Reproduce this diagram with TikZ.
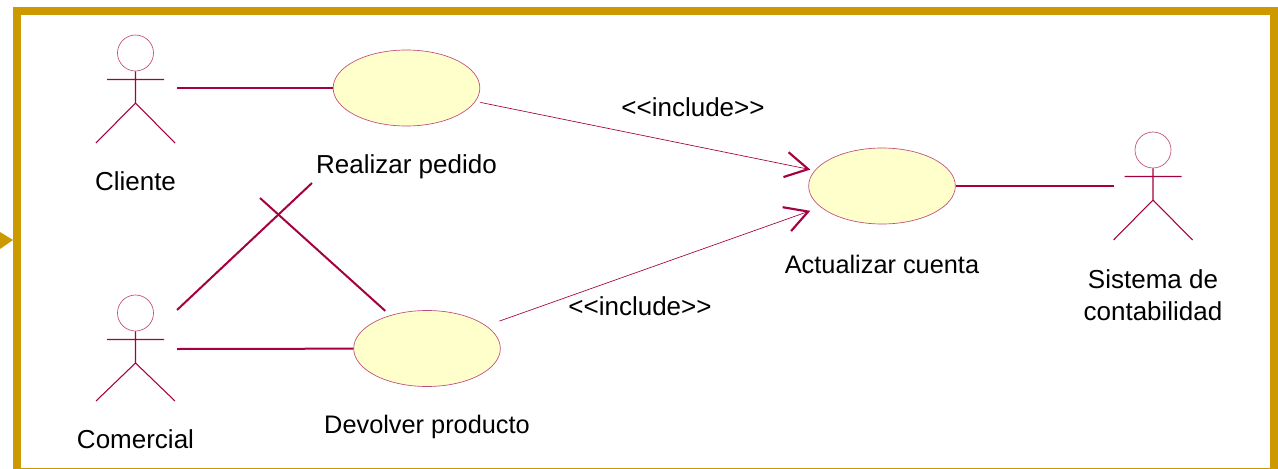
\documentclass[tikz,border=0pt]{standalone}
\usepackage{fontspec}
\setmainfont{Liberation Sans}
\usetikzlibrary{shapes.geometric, arrows.meta}
\definecolor{umlred}{HTML}{A5003F}
\definecolor{framegold}{HTML}{CC9900}
\definecolor{casefill}{HTML}{FFFFCC}
\tikzset{
x=0.75pt, y=-0.75pt, % one unit is one pixel of the layout, going down
usecase/.style={ellipse, draw=umlred!70, fill=casefill, line width=0.5pt, minimum width=110pt, minimum height=57pt, inner sep=0pt}, % yellow ovals
caption/.style={font=\fontsize{19.5}{24}\selectfont, align=center, inner sep=0pt, text=black}, % all the texts
tightcaption/.style={caption, font=\fontsize{19}{24}\selectfont}, % the two longest texts
assoc/.style={draw=umlred, line width=1.5pt}, % plain links
incl/.style={draw=umlred, line width=0.5pt, -{Straight Barb[length=17pt, width=19pt, line width=1.6pt]}}, % include links
actor/.pic={
    \node[circle, draw=umlred!70, line width=0.5pt, minimum size=27pt, inner sep=0pt] (-head) at (0,0) {};
    \draw[umlred, line width=0.8pt] (-head.south) -- (0,50)
        (-28.5,26.5) -- (28.5,26.5)
        (-39.5,#1) -- (0,50) -- (39.5,#1);
},
}

\begin{document}
\begin{tikzpicture}
    \clip (0,0) rectangle (1278,468);
    % frame
    \draw[framegold, line width=6pt] (17,10.7) rectangle (1273.5,471.5);
    \fill[framegold] (0,232) -- (13,240) -- (0,249) -- cycle;

    % actors
    \pic (cliente) at (135.5,53) {actor=90};
    \pic (comercial) at (135.5,313) {actor=88};
    \pic (sistema) at (1153,150) {actor=90};
    \node[caption, below of=cliente-head, node distance=96pt] (clienteText) {Cliente};
    \node[caption, below of=comercial-head, node distance=94.5pt] (comercialText) {Comercial};
    \node[caption, below of=sistema-head, node distance=108.75pt] (sistemaText) {Sistema de\\contabilidad};

    % use cases
    \node[usecase] (pedido) at (406.5,88) {};
    \node[usecase] (devolver) at (427,348.5) {};
    \node[usecase] (cuenta) at (882,186) {};
    \node[caption, below of=pedido, node distance=59pt] (pedidoText) {Realizar pedido};
    \node[tightcaption, below of=devolver, node distance=58.5pt] (devolverText) {Devolver producto};
    \node[tightcaption, below of=cuenta, node distance=58.5pt] (cuentaText) {Actualizar cuenta};

    % free ends of the links
    \coordinate (clienteEnd) at (177,88);
    \coordinate (comercialEnd) at (177,349);
    \coordinate (comercialUp) at (177,310);
    \coordinate (pedidoLow) at (312,183);
    \coordinate (devolverUp) at (260,198);
    \coordinate (sistemaEnd) at (1114,186);

    \draw[assoc] (clienteEnd) -- (pedido);
    \draw[assoc] (comercialEnd) -- (devolver);
    \draw[assoc] (comercialUp) -- (pedidoLow);
    \draw[assoc, shorten >=5pt] (devolverUp) -- (devolver);
    \draw[assoc] (cuenta) -- (sistemaEnd);
    \draw[incl, shorten <=3.8pt, shorten >=3.3pt] (pedido.-11) -- (cuenta.167);
    \draw[incl, shorten <=10.4pt, shorten >=8.2pt] (devolver.21) -- (cuenta.199);
    \node[caption] (includeA) at (693,107) {<{}<include>{}>};
    \node[caption] (includeB) at (640,306) {<{}<include>{}>};
\end{tikzpicture}
\end{document}
